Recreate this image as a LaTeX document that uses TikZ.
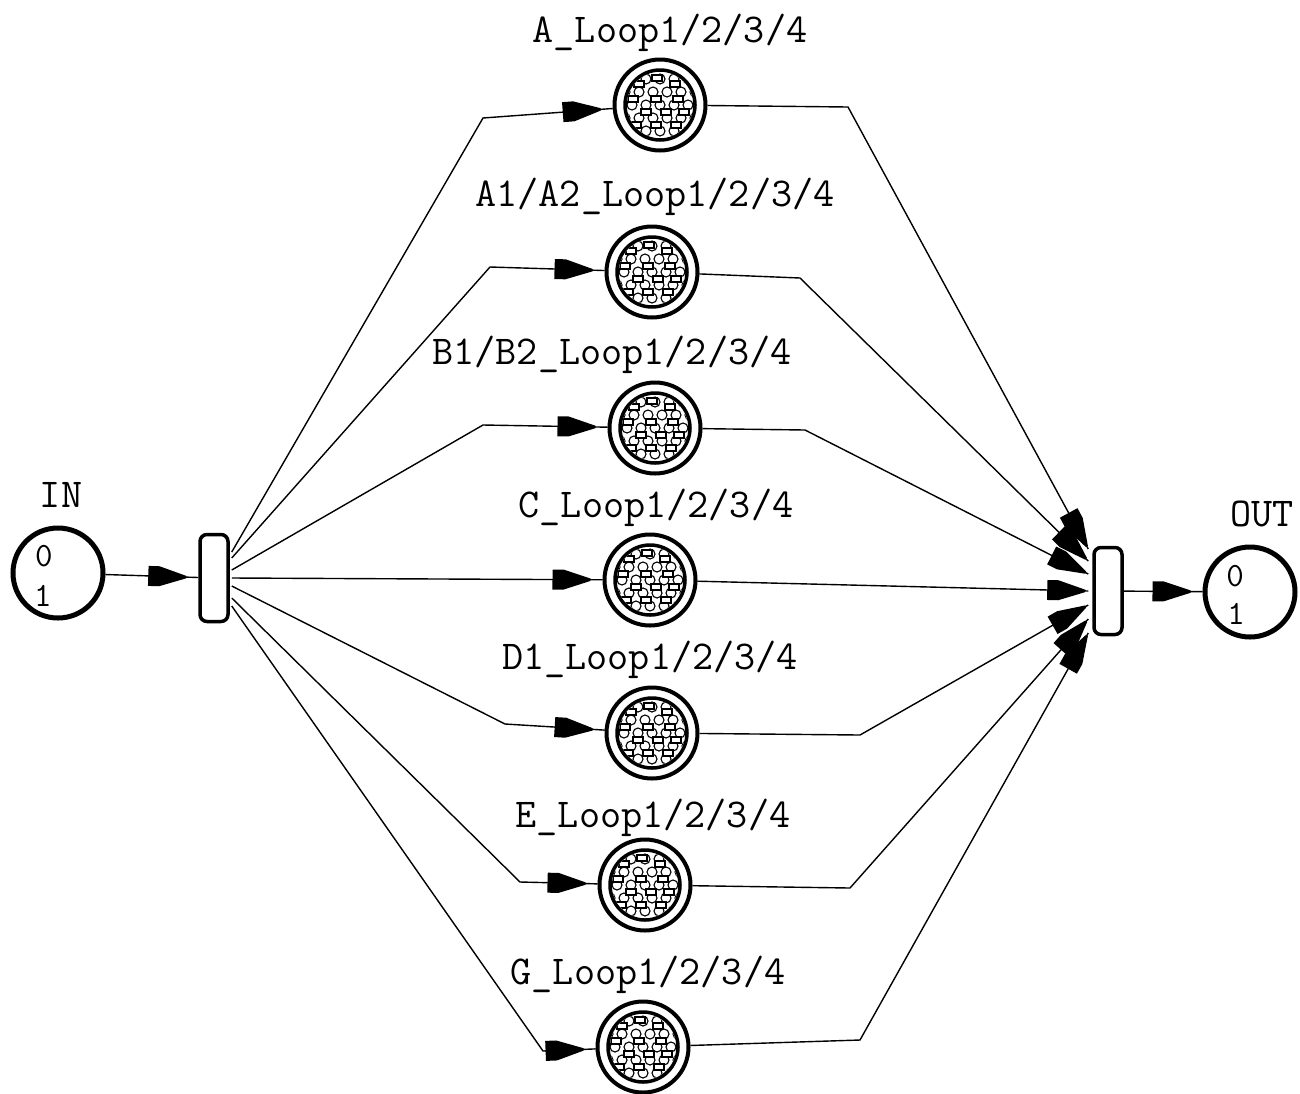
\documentclass[tikz,border=0pt]{standalone}
\usetikzlibrary{decorations.markings,calc}

% filled arrow head: blunt back, tapering to a point
\newcommand\headshape{\fill (-38pt,-10pt) -- (-27pt,-10pt) -- (0pt,-1.2pt) -- (0pt,1.2pt) -- (-27pt,10pt) -- (-38pt,10pt) -- cycle;}

% inner emblem of a subnet place: ring plus a net of tiny places and transitions
\newcommand\subnetfill{%
  \begin{scope}[shift={(path picture bounding box.center)}]
    \draw[line width=3.5pt] (0,0) circle (35pt);
    \clip (0,0) circle (33pt);
    \foreach \r in {0,...,4}{
      \foreach \c in {-3,...,3}{
        \pgfmathsetmacro\xx{\c*14+mod(\r,2)*7}
        \pgfmathsetmacro\yy{(\r-2)*13}
        \draw[line width=1.1pt] (\xx,\yy) circle (5pt);
      }
    }
    \foreach \x/\y in {-3/-27,15/-21,-21/-21,-27/-6,-4/-6,18/-6,-14/7,6/7,24/7,-4/20,16/20,-24/20}{
      \filldraw[fill=white,line width=1.5pt] (\x-5,\y-3) rectangle (\x+5,\y+3);
    }
  \end{scope}}

\tikzset{
  lbl/.style={font=\ttfamily\fontsize{41}{43}\selectfont, inner sep=0pt},
  tok/.style={font=\ttfamily\fontsize{34}{36}\selectfont, inner sep=0pt},
  place/.style={circle, draw, line width=5pt, minimum size=90pt, inner sep=0pt},
  subnet/.style={circle, draw, line width=4pt, minimum size=91pt, inner sep=0pt,
    path picture={\subnetfill}},
  trans/.style={rectangle, draw, rounded corners=7pt, line width=3.5pt,
    minimum width=28pt, minimum height=87pt, inner sep=0pt},
  arc/.style={line width=1.4pt, postaction={decorate},
    decoration={markings, mark=at position #1 with {\headshape}}},
  arc/.default=-12pt
}

\begin{document}
\begin{tikzpicture}[x=1pt,y=-1pt]
\useasboundingbox (0,0) rectangle (1300,1093);

% input and output places
\node[place] (in) at (58,573) {};
\node[tok] at (44,556) {0};
\node[tok] at (43,596) {1};
\node[lbl] at (61,495) {IN};

\node[place] (out) at (1250,592) {};
\node[tok] at (1235,576) {0};
\node[tok] at (1236,614) {1};
\node[lbl] at (1262,514) {OUT};

% fork and join transitions
\node[trans] (lt) at (214,578) {};
\node[trans] (rt) at (1108,591) {};

% subnet places
\node[subnet] (a)  at (660,105)  {};
\node[subnet] (a1) at (652,272)  {};
\node[subnet] (b1) at (655,428)  {};
\node[subnet] (c)  at (650,580)  {};
\node[subnet] (d1) at (652,733)  {};
\node[subnet] (e)  at (645,885)  {};
\node[subnet] (g)  at (643,1047) {};

\node[lbl] at (670,33)  {A\_Loop1/2/3/4};
\node[lbl] at (655,197) {A1/A2\_Loop1/2/3/4};
\node[lbl] at (612,355) {B1/B2\_Loop1/2/3/4};
\node[lbl] at (656,508) {C\_Loop1/2/3/4};
\node[lbl] at (650,660) {D1\_Loop1/2/3/4};
\node[lbl] at (653,818) {E\_Loop1/2/3/4};
\node[lbl] at (648,975) {G\_Loop1/2/3/4};

% input arc
\draw[arc] (in) -- (lt);

% fork arcs
\draw[arc] ($(lt.east)+(2,-26)$) -- (483,118) -- (a);
\draw[arc] ($(lt.east)+(2,-20)$) -- (490,267) -- (a1);
\draw[arc] ($(lt.east)+(2,-8)$)  -- (483,425) -- (b1);
\draw[arc] ($(lt.east)+(2,0)$)   -- (c);
\draw[arc] ($(lt.east)+(2,8)$)   -- (505,724) -- (d1);
\draw[arc] ($(lt.east)+(2,20)$)  -- (520,882) -- (e);
\draw[arc] ($(lt.east)+(2,28)$)  -- (543,1051) -- (g);

% join arcs
\draw[arc=-3pt] (a)  -- (848,107)  -- ($(rt.west)+(-4,-42)$);
\draw[arc=-3pt] (a1) -- (800,278)  -- ($(rt.west)+(-4,-30)$);
\draw[arc=-3pt] (b1) -- (805,430)  -- ($(rt.west)+(-4,-17)$);
\draw[arc=-3pt] (c)  -- ($(rt.west)+(-4,0)$);
\draw[arc=-3pt] (d1) -- (860,735)  -- ($(rt.west)+(-4,14)$);
\draw[arc=-3pt] (e)  -- (850,888)  -- ($(rt.west)+(-4,28)$);
\draw[arc=-3pt] (g)  -- (860,1040) -- ($(rt.west)+(-4,42)$);

% output arc
\draw[arc] (rt) -- (out);
\end{tikzpicture}
\end{document}
